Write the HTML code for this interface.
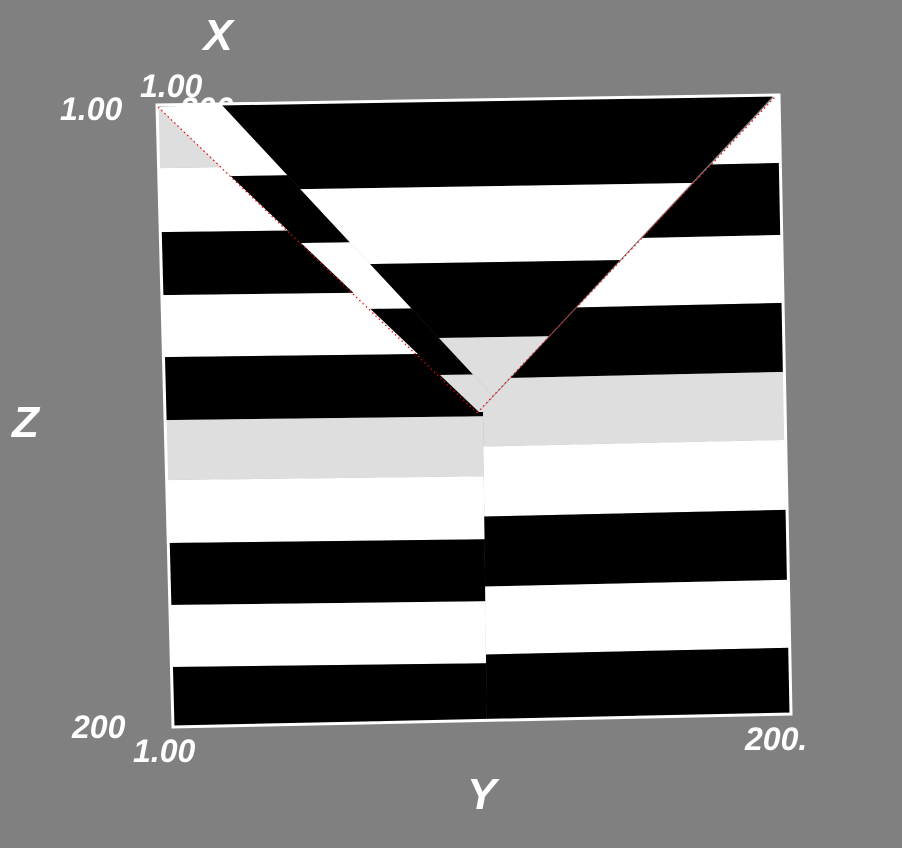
<!DOCTYPE html>
<html><head><meta charset="utf-8"><style>
html,body{margin:0;padding:0;background:#808080;}
svg{display:block}
text{font-family:"Liberation Sans",sans-serif;font-style:italic;font-weight:bold;fill:#fff;}
</style></head><body>
<svg id="chart" width="902" height="848" viewBox="0 0 902 848">
<rect width="902" height="848" fill="#808080"/>
<defs>
<clipPath id="cLeft"><polygon points="140,100 158,107 479,412 483,412 487,740 140,740"/></clipPath>
<clipPath id="cRight"><polygon points="775,90 773,98 479,412 483,412 487,740 810,740 810,90"/></clipPath>
<clipPath id="cBand"><polygon points="158,107 221,104 493,396 479,412"/></clipPath>
<clipPath id="cInner"><polygon points="221,104 773,96 493,396"/></clipPath>
<clipPath id="cQuad"><polygon points="157,105 779,95 791,714 173,727"/></clipPath>
</defs>
<text x="180" y="120" font-size="32">200.</text>
<g id="volume" clip-path="url(#cQuad)"></g>
<polygon points="157,105 779,95 791,714 173,727" fill="none" stroke="#fff" stroke-width="3"/>
<line x1="158" y1="107" x2="477" y2="413" stroke="#e00" stroke-width="1.2" stroke-dasharray="1.5,3"/>
<line x1="477" y1="413" x2="775" y2="97" stroke="#e00" stroke-width="1.2" stroke-dasharray="1.5,3"/>
<text x="218" y="50" font-size="44" text-anchor="middle">X</text>
<text x="12" y="437" font-size="44">Z</text>
<text x="467" y="809" font-size="44">Y</text>
<text x="60" y="120" font-size="32">1.00</text>
<text x="140" y="97" font-size="32">1.00</text>
<text x="72" y="738" font-size="32">200</text>
<text x="133" y="762" font-size="32">1.00</text>
<text x="745" y="750" font-size="32">200.</text>
</svg>
<script>
const leftBounds=[100,168,232,295,357,420,480,543,605,667,745];
const leftColors=['gray','white','black','white','black','gray','white','black','white','black'];
const rightBounds=[85,163,235,303,372,440,510,580,648,745];
const rightColors=['white','black','white','black','gray','white','black','white','black'];
const bandBounds=[95,175,243,310,377,425];
const bandColors=['white','black','white','black','gray'];
const innerBounds=[85,186,262,337,425];
const innerColors=['black','white','black','gray'];
const palette={gray:'#dedede',white:'#ffffff',black:'#000000'};
const NS='http://www.w3.org/2000/svg';
const vol=document.getElementById('volume');
function region(name,clip,bounds,colors,refX,slope){
  const g=document.createElementNS(NS,'g');
  g.setAttribute('clip-path','url(#'+clip+')');
  
  
  const x0=130,x1=820;
  for(let i=0;i<colors.length;i++){
    const ya=bounds[i],yb=bounds[i+1];
    const f=(x,y)=>x+','+(y+(x-refX)*slope).toFixed(1);
    const p=document.createElementNS(NS,'polygon');
    p.setAttribute('points',[f(x0,ya),f(x1,ya),f(x1,yb),f(x0,yb)].join(' '));
    p.setAttribute('fill',palette[colors[i]]);
    
    
    g.appendChild(p);
  }
  vol.appendChild(g);
}
region('left-stripes','cLeft',leftBounds,leftColors,170,-0.012);
region('right-stripes','cRight',rightBounds,rightColors,780,-0.022);
region('band-stripes','cBand',bandBounds,bandColors,300,-0.015);
region('inner-stripes','cInner',innerBounds,innerColors,500,-0.016);
</script>
</body></html>
